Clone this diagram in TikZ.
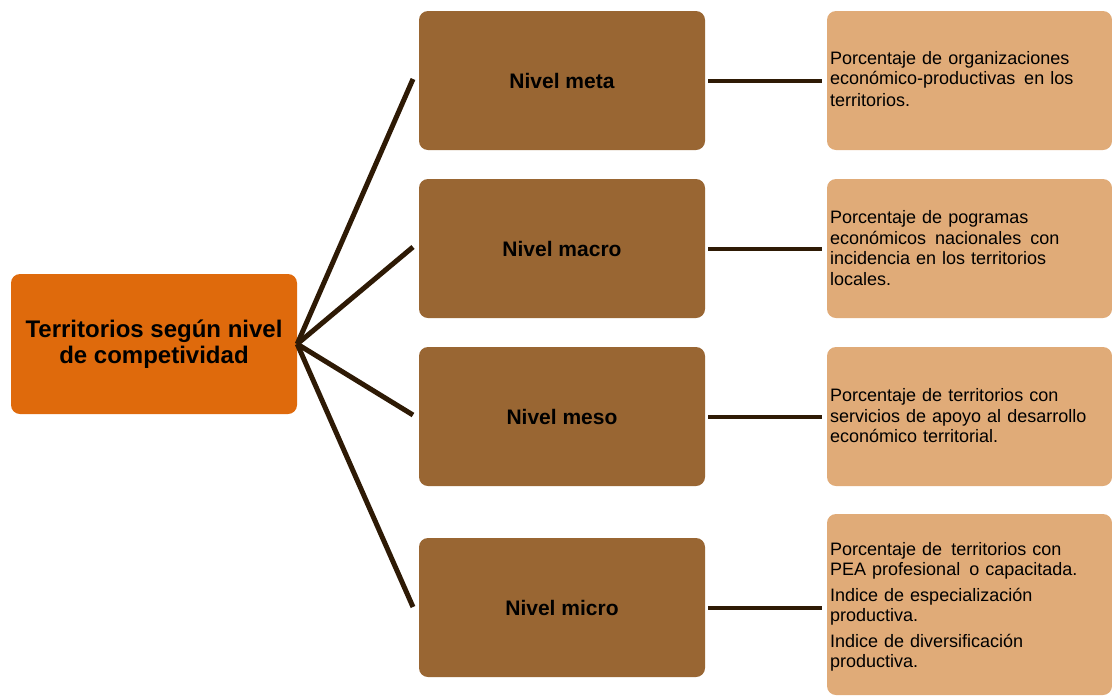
\documentclass[tikz,border=0pt]{standalone}
\usepackage{fontspec}
\setmainfont{Liberation Sans}
\definecolor{rootc}{HTML}{DF6A0C}
\definecolor{nivc}{HTML}{996633}
\definecolor{descc}{HTML}{E0AB78}
\definecolor{linec}{HTML}{2E1A05}
\begin{document}
\begin{tikzpicture}[x=1pt,y=-1pt,
  rootbox/.style={fill=rootc,rounded corners=9pt,minimum width=286pt,minimum height=140pt,inner sep=0pt,
    align=center,font=\fontsize{24}{26}\selectfont\bfseries},
  nivbox/.style={fill=nivc,rounded corners=9pt,minimum width=286pt,minimum height=139pt,inner sep=0pt,
    font=\fontsize{21}{24}\selectfont\bfseries},
  descbox/.style={fill=descc,rounded corners=9pt,minimum width=285pt,inner sep=0pt},
  desctext/.style={text width=280pt,align=left,inner sep=0pt,font=\fontsize{18}{20.5}\selectfont},
  conn/.style={draw=linec,line width=5pt},
  hconn/.style={draw=linec,line width=4pt,shorten <=3pt,shorten >=5pt}]
\useasboundingbox (0,0) rectangle (1112,697);
% root
\node[rootbox] (root) at (154,344) {Territorios según nivel\\de competividad};
% level boxes
\node[nivbox] (meta) at (562,80.5) {Nivel meta};
\node[nivbox] (macro) at (562,248.5) {Nivel macro};
\node[nivbox] (meso) at (562,416.5) {Nivel meso};
\node[nivbox] (micro) at (562,607.5) {Nivel micro};
% description boxes
\node[descbox,minimum height=139pt] (dmeta) at (969.5,80.5) {};
\node[descbox,minimum height=139pt] (dmacro) at (969.5,248.5) {};
\node[descbox,minimum height=139pt] (dmeso) at (969.5,416.5) {};
\node[descbox,minimum height=181pt] (dmicro) at (969.5,604.5) {};
\node[desctext,anchor=west] (tmeta) at (830,79) {Porcentaje de organizaciones\\económico-productivas\, en los\\[1pt]territorios.};
\node[desctext,anchor=west] (tmacro) at (830,248) {Porcentaje de pogramas\\económicos\, nacionales\, con\\incidencia en los territorios\\locales.};
\node[desctext,anchor=west] (tmeso) at (830,416) {Porcentaje de territorios con\\servicios de apoyo al desarrollo\\económico territorial.};
\node[desctext,anchor=west] (tmicro) at (830,607) {Porcentaje de\, territorios con\\PEA profesional\, o capacitada.\\[5pt]Indice de especialización\\productiva.\\[5pt]Indice de diversificación\\productiva.};
% connector ends
\coordinate (e1) at (413,79);
\coordinate (e2) at (413,247);
\coordinate (e3) at (413,415);
\coordinate (e4) at (413,607);
\draw[conn] (root.east) -- (e1);
\draw[conn] (root.east) -- (e2);
\draw[conn] (root.east) -- (e3);
\draw[conn] (root.east) -- (e4);
\draw[hconn] (meta.east) -- (dmeta.west);
\draw[hconn] (macro.east) -- (dmacro.west);
\draw[hconn] (meso.east) -- (dmeso.west);
\draw[hconn] (micro.east) -- (micro.east -| dmicro.west);
\end{tikzpicture}
\end{document}
